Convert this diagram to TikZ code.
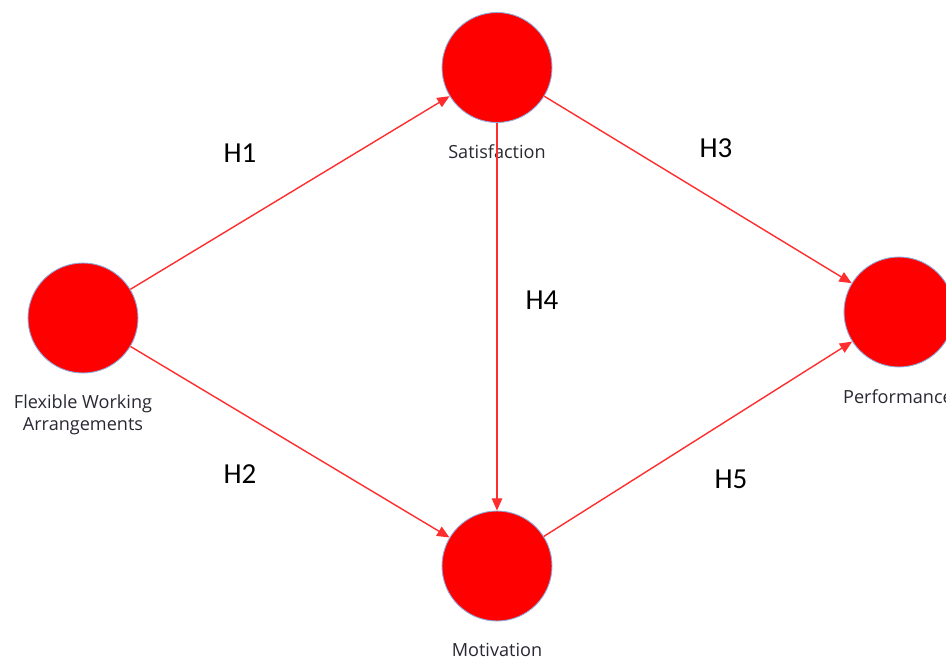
\documentclass[tikz,border=0pt]{standalone}
\usepackage{fontspec}
\setmainfont{Open Sans}
\newfontfamily\hfont{Carlito}
\usetikzlibrary{arrows.meta}

\definecolor{hred}{RGB}{255,0,0}
\definecolor{linkred}{RGB}{255,45,45}
\definecolor{rimblue}{RGB}{140,170,220}
\definecolor{txtgray}{RGB}{40,40,50}

\begin{document}
\begin{tikzpicture}[x=0.02cm, y=-0.02cm,
 construct/.style = {shape=circle, fill=hred, draw=rimblue, line width=0.5pt,
 minimum size=2.2cm, inner sep=0pt},
 conlabel/.style = {text=txtgray, font=\fontsize{10.3}{12.5}\selectfont, align=center},
 hyp/.style = {font=\hfont\fontsize{16.5}{18}\selectfont},
 link/.style = {draw=linkred, line width=0.8pt, -{Triangle[length=7pt,width=6pt]}}]
 \useasboundingbox (0,0) rectangle (946,658);
 % the four constructs
 \node [construct] (fwa) at (83,318) {};
 \node [construct] (sat) at (497,67.5) {};
 \node [construct] (mot) at (497,566) {};
 \node [construct] (perf) at (899,312) {};
 \node [conlabel] (fwa-text) at (83,415) {Flexible Working\\Arrangements};
 \node [conlabel] (sat-text) at (497,152) {Satisfaction};
 \node [conlabel] (mot-text) at (497,650) {Motivation};
 \node [conlabel] (perf-text) at (898,397) {Performance};
 % hypotheses
 \path [link] (fwa) -- (sat);
 \path [link] (fwa) -- (mot);
 \path [link] (sat) -- (perf);
 \path [link] (sat) -- (mot);
 \path [link] (mot) -- (perf);
 \node [hyp] (h1) at (240,153) {H1};
 \node [hyp] (h2) at (240,474) {H2};
 \node [hyp] (h3) at (716,148) {H3};
 \node [hyp] (h4) at (542,300) {H4};
 \node [hyp] (h5) at (731,479) {H5};
\end{tikzpicture}
\end{document}
